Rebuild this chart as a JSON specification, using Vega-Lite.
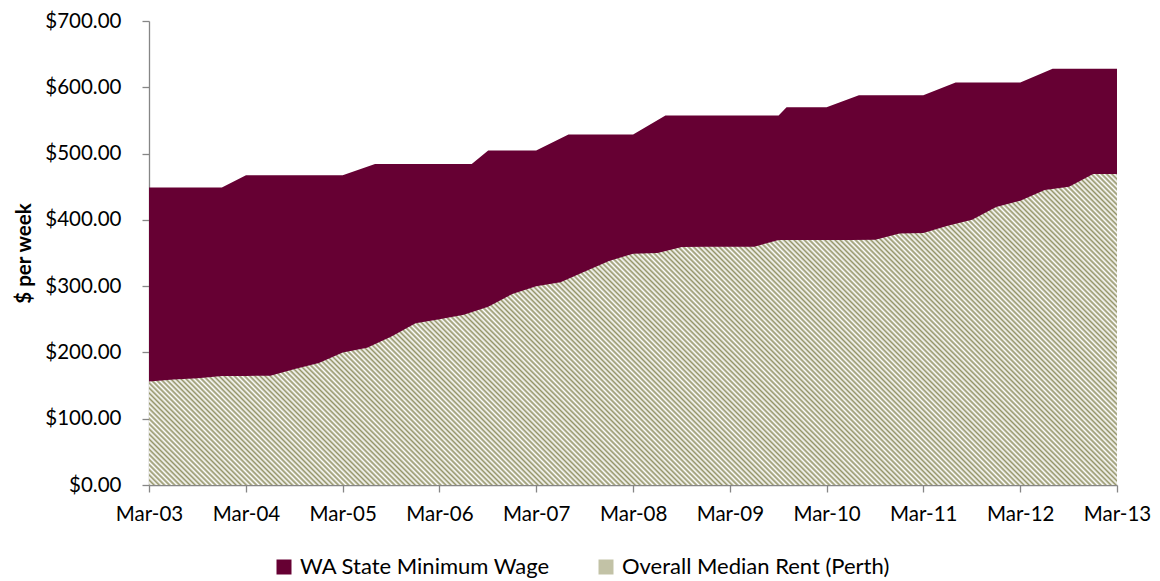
{
  "$schema": "https://vega.github.io/schema/vega-lite/v6.json",
  "width": 968,
  "height": 464,
  "autosize": {"type": "none"},
  "padding": {"left": 149, "top": 21, "right": 43, "bottom": 96},
  "background": "white",
  "config": {"view": {"stroke": null}, "font": "Lato"},
  "data": {"values": [
    {"date": "2003-03-01", "series": "WA State Minimum Wage", "value": 448.7},
    {"date": "2003-12-01", "series": "WA State Minimum Wage", "value": 448.7},
    {"date": "2004-03-01", "series": "WA State Minimum Wage", "value": 467.4},
    {"date": "2005-03-01", "series": "WA State Minimum Wage", "value": 467.4},
    {"date": "2005-07-01", "series": "WA State Minimum Wage", "value": 484.4},
    {"date": "2006-07-01", "series": "WA State Minimum Wage", "value": 484.4},
    {"date": "2006-09-01", "series": "WA State Minimum Wage", "value": 504.6},
    {"date": "2007-03-01", "series": "WA State Minimum Wage", "value": 504.6},
    {"date": "2007-07-01", "series": "WA State Minimum Wage", "value": 528.9},
    {"date": "2008-03-01", "series": "WA State Minimum Wage", "value": 528.9},
    {"date": "2008-07-01", "series": "WA State Minimum Wage", "value": 557.6},
    {"date": "2009-09-01", "series": "WA State Minimum Wage", "value": 557.6},
    {"date": "2009-10-01", "series": "WA State Minimum Wage", "value": 569.7},
    {"date": "2010-03-01", "series": "WA State Minimum Wage", "value": 569.7},
    {"date": "2010-07-01", "series": "WA State Minimum Wage", "value": 587.8},
    {"date": "2011-03-01", "series": "WA State Minimum Wage", "value": 587.8},
    {"date": "2011-07-01", "series": "WA State Minimum Wage", "value": 607.4},
    {"date": "2012-03-01", "series": "WA State Minimum Wage", "value": 607.4},
    {"date": "2012-07-01", "series": "WA State Minimum Wage", "value": 627.9},
    {"date": "2013-03-01", "series": "WA State Minimum Wage", "value": 627.9},
    {"date": "2003-03-01", "series": "Overall Median Rent (Perth)", "value": 156},
    {"date": "2003-06-01", "series": "Overall Median Rent (Perth)", "value": 159},
    {"date": "2003-09-01", "series": "Overall Median Rent (Perth)", "value": 161},
    {"date": "2003-12-01", "series": "Overall Median Rent (Perth)", "value": 164.5},
    {"date": "2004-03-01", "series": "Overall Median Rent (Perth)", "value": 164.5},
    {"date": "2004-06-01", "series": "Overall Median Rent (Perth)", "value": 165},
    {"date": "2004-09-01", "series": "Overall Median Rent (Perth)", "value": 175},
    {"date": "2004-12-01", "series": "Overall Median Rent (Perth)", "value": 184},
    {"date": "2005-03-01", "series": "Overall Median Rent (Perth)", "value": 200},
    {"date": "2005-06-01", "series": "Overall Median Rent (Perth)", "value": 207},
    {"date": "2005-09-01", "series": "Overall Median Rent (Perth)", "value": 224},
    {"date": "2005-12-01", "series": "Overall Median Rent (Perth)", "value": 244},
    {"date": "2006-03-01", "series": "Overall Median Rent (Perth)", "value": 250},
    {"date": "2006-06-01", "series": "Overall Median Rent (Perth)", "value": 257},
    {"date": "2006-09-01", "series": "Overall Median Rent (Perth)", "value": 269},
    {"date": "2006-12-01", "series": "Overall Median Rent (Perth)", "value": 288},
    {"date": "2007-03-01", "series": "Overall Median Rent (Perth)", "value": 300},
    {"date": "2007-06-01", "series": "Overall Median Rent (Perth)", "value": 306},
    {"date": "2007-09-01", "series": "Overall Median Rent (Perth)", "value": 322},
    {"date": "2007-12-01", "series": "Overall Median Rent (Perth)", "value": 338},
    {"date": "2008-03-01", "series": "Overall Median Rent (Perth)", "value": 349},
    {"date": "2008-06-01", "series": "Overall Median Rent (Perth)", "value": 350},
    {"date": "2008-09-01", "series": "Overall Median Rent (Perth)", "value": 359},
    {"date": "2008-12-01", "series": "Overall Median Rent (Perth)", "value": 359.5},
    {"date": "2009-03-01", "series": "Overall Median Rent (Perth)", "value": 359.5},
    {"date": "2009-06-01", "series": "Overall Median Rent (Perth)", "value": 359.5},
    {"date": "2009-09-01", "series": "Overall Median Rent (Perth)", "value": 369.5},
    {"date": "2009-12-01", "series": "Overall Median Rent (Perth)", "value": 369.5},
    {"date": "2010-03-01", "series": "Overall Median Rent (Perth)", "value": 369.5},
    {"date": "2010-06-01", "series": "Overall Median Rent (Perth)", "value": 369.5},
    {"date": "2010-09-01", "series": "Overall Median Rent (Perth)", "value": 370},
    {"date": "2010-12-01", "series": "Overall Median Rent (Perth)", "value": 379.5},
    {"date": "2011-03-01", "series": "Overall Median Rent (Perth)", "value": 380},
    {"date": "2011-06-01", "series": "Overall Median Rent (Perth)", "value": 391},
    {"date": "2011-09-01", "series": "Overall Median Rent (Perth)", "value": 400},
    {"date": "2011-12-01", "series": "Overall Median Rent (Perth)", "value": 419.5},
    {"date": "2012-03-01", "series": "Overall Median Rent (Perth)", "value": 429},
    {"date": "2012-06-01", "series": "Overall Median Rent (Perth)", "value": 445},
    {"date": "2012-09-01", "series": "Overall Median Rent (Perth)", "value": 450},
    {"date": "2012-12-01", "series": "Overall Median Rent (Perth)", "value": 469},
    {"date": "2013-03-01", "series": "Overall Median Rent (Perth)", "value": 469}
  ]},
  "encoding": {
    "x": {
      "field": "date", "type": "temporal",
      "scale": {"type": "utc", "domain": [{"year": 2003, "month": 3, "date": 1, "utc": true}, {"year": 2013, "month": 3, "date": 1, "utc": true}]},
      "axis": {
        "title": null, "grid": false, "format": "%b-%y",
        "values": [
          {"year": 2003, "month": 3, "date": 1, "utc": true},
          {"year": 2004, "month": 3, "date": 1, "utc": true},
          {"year": 2005, "month": 3, "date": 1, "utc": true},
          {"year": 2006, "month": 3, "date": 1, "utc": true},
          {"year": 2007, "month": 3, "date": 1, "utc": true},
          {"year": 2008, "month": 3, "date": 1, "utc": true},
          {"year": 2009, "month": 3, "date": 1, "utc": true},
          {"year": 2010, "month": 3, "date": 1, "utc": true},
          {"year": 2011, "month": 3, "date": 1, "utc": true},
          {"year": 2012, "month": 3, "date": 1, "utc": true},
          {"year": 2013, "month": 3, "date": 1, "utc": true}
        ],
        "labelFont": "Lato", "labelFontSize": 20.5, "labelColor": "#000000",
        "labelPadding": 12, "labelOverlap": false, "labelFlush": false,
        "tickSize": 7, "tickColor": "#868686", "tickWidth": 1.3,
        "domainColor": "#868686", "domainWidth": 1.3
      }
    },
    "y": {
      "field": "value", "type": "quantitative", "stack": null,
      "scale": {"domain": [0, 700], "nice": false},
      "axis": {
        "title": "$ per week", "titleFont": "Lato", "titleFontSize": 20.5, "titleFontWeight": "bold", "titleColor": "#000000", "titlePadding": 10,
        "grid": false, "values": [0, 100, 200, 300, 400, 500, 600, 700], "format": "$.2f",
        "labelFont": "Lato", "labelFontSize": 20.5, "labelColor": "#000000", "labelPadding": 21,
        "tickSize": 7, "tickColor": "#868686", "tickWidth": 1.3,
        "domainColor": "#868686", "domainWidth": 1.3
      }
    }
  },
  "layer": [
    {
      "transform": [{"filter": "datum.series === 'WA State Minimum Wage'"}],
      "mark": {"type": "area", "opacity": 1},
      "encoding": {
        "color": {
          "field": "series", "type": "nominal",
          "scale": {"domain": ["WA State Minimum Wage", "Overall Median Rent (Perth)"], "range": ["#660033", "#c2c2a6"]},
          "legend": {
            "title": null, "orient": "none", "legendX": 124, "legendY": 535, "direction": "horizontal",
            "symbolType": "square", "symbolSize": 225, "symbolStrokeWidth": 0, "symbolOpacity": 1,
            "labelFont": "Lato", "labelFontSize": 22, "labelColor": "#000000", "labelOffset": 5, "columnPadding": 44, "labelLimit": 0
          }
        }
      }
    },
    {
      "transform": [{"filter": "datum.series === 'Overall Median Rent (Perth)'"}],
      "mark": {"type": "area", "opacity": 1, "color": {"gradient": "linear", "x1": 0, "y1": 1, "x2": 1.1977, "y2": 0.6152, "stops": [
        {"offset":0,"color":"#949468"},{"offset":0.002,"color":"#fff"},{"offset":0.004,"color":"#949468"},{"offset":0.006,"color":"#fff"},{"offset":0.008,"color":"#949468"},{"offset":0.01,"color":"#fff"},{"offset":0.012,"color":"#949468"},{"offset":0.014,"color":"#fff"},{"offset":0.016,"color":"#949468"},{"offset":0.018,"color":"#fff"},
        {"offset":0.02,"color":"#949468"},{"offset":0.022,"color":"#fff"},{"offset":0.024,"color":"#949468"},{"offset":0.026,"color":"#fff"},{"offset":0.028,"color":"#949468"},{"offset":0.03,"color":"#fff"},{"offset":0.032,"color":"#949468"},{"offset":0.034,"color":"#fff"},{"offset":0.036,"color":"#949468"},{"offset":0.038,"color":"#fff"},
        {"offset":0.04,"color":"#949468"},{"offset":0.042,"color":"#fff"},{"offset":0.044,"color":"#949468"},{"offset":0.046,"color":"#fff"},{"offset":0.048,"color":"#949468"},{"offset":0.05,"color":"#fff"},{"offset":0.052,"color":"#949468"},{"offset":0.054,"color":"#fff"},{"offset":0.056,"color":"#949468"},{"offset":0.058,"color":"#fff"},
        {"offset":0.06,"color":"#949468"},{"offset":0.062,"color":"#fff"},{"offset":0.064,"color":"#949468"},{"offset":0.066,"color":"#fff"},{"offset":0.068,"color":"#949468"},{"offset":0.07,"color":"#fff"},{"offset":0.072,"color":"#949468"},{"offset":0.074,"color":"#fff"},{"offset":0.076,"color":"#949468"},{"offset":0.078,"color":"#fff"},
        {"offset":0.08,"color":"#949468"},{"offset":0.082,"color":"#fff"},{"offset":0.084,"color":"#949468"},{"offset":0.086,"color":"#fff"},{"offset":0.088,"color":"#949468"},{"offset":0.09,"color":"#fff"},{"offset":0.092,"color":"#949468"},{"offset":0.094,"color":"#fff"},{"offset":0.096,"color":"#949468"},{"offset":0.098,"color":"#fff"},
        {"offset":0.1,"color":"#949468"},{"offset":0.102,"color":"#fff"},{"offset":0.104,"color":"#949468"},{"offset":0.106,"color":"#fff"},{"offset":0.108,"color":"#949468"},{"offset":0.11,"color":"#fff"},{"offset":0.112,"color":"#949468"},{"offset":0.114,"color":"#fff"},{"offset":0.116,"color":"#949468"},{"offset":0.118,"color":"#fff"},
        {"offset":0.12,"color":"#949468"},{"offset":0.122,"color":"#fff"},{"offset":0.124,"color":"#949468"},{"offset":0.126,"color":"#fff"},{"offset":0.128,"color":"#949468"},{"offset":0.13,"color":"#fff"},{"offset":0.132,"color":"#949468"},{"offset":0.134,"color":"#fff"},{"offset":0.136,"color":"#949468"},{"offset":0.138,"color":"#fff"},
        {"offset":0.14,"color":"#949468"},{"offset":0.142,"color":"#fff"},{"offset":0.144,"color":"#949468"},{"offset":0.146,"color":"#fff"},{"offset":0.148,"color":"#949468"},{"offset":0.15,"color":"#fff"},{"offset":0.152,"color":"#949468"},{"offset":0.154,"color":"#fff"},{"offset":0.156,"color":"#949468"},{"offset":0.158,"color":"#fff"},
        {"offset":0.16,"color":"#949468"},{"offset":0.162,"color":"#fff"},{"offset":0.164,"color":"#949468"},{"offset":0.166,"color":"#fff"},{"offset":0.168,"color":"#949468"},{"offset":0.17,"color":"#fff"},{"offset":0.172,"color":"#949468"},{"offset":0.174,"color":"#fff"},{"offset":0.176,"color":"#949468"},{"offset":0.178,"color":"#fff"},
        {"offset":0.18,"color":"#949468"},{"offset":0.182,"color":"#fff"},{"offset":0.184,"color":"#949468"},{"offset":0.186,"color":"#fff"},{"offset":0.188,"color":"#949468"},{"offset":0.19,"color":"#fff"},{"offset":0.192,"color":"#949468"},{"offset":0.194,"color":"#fff"},{"offset":0.196,"color":"#949468"},{"offset":0.198,"color":"#fff"},
        {"offset":0.2,"color":"#949468"},{"offset":0.202,"color":"#fff"},{"offset":0.204,"color":"#949468"},{"offset":0.206,"color":"#fff"},{"offset":0.208,"color":"#949468"},{"offset":0.21,"color":"#fff"},{"offset":0.212,"color":"#949468"},{"offset":0.214,"color":"#fff"},{"offset":0.216,"color":"#949468"},{"offset":0.218,"color":"#fff"},
        {"offset":0.22,"color":"#949468"},{"offset":0.222,"color":"#fff"},{"offset":0.224,"color":"#949468"},{"offset":0.226,"color":"#fff"},{"offset":0.228,"color":"#949468"},{"offset":0.23,"color":"#fff"},{"offset":0.232,"color":"#949468"},{"offset":0.234,"color":"#fff"},{"offset":0.236,"color":"#949468"},{"offset":0.238,"color":"#fff"},
        {"offset":0.24,"color":"#949468"},{"offset":0.242,"color":"#fff"},{"offset":0.244,"color":"#949468"},{"offset":0.246,"color":"#fff"},{"offset":0.248,"color":"#949468"},{"offset":0.25,"color":"#fff"},{"offset":0.252,"color":"#949468"},{"offset":0.254,"color":"#fff"},{"offset":0.256,"color":"#949468"},{"offset":0.258,"color":"#fff"},
        {"offset":0.26,"color":"#949468"},{"offset":0.262,"color":"#fff"},{"offset":0.264,"color":"#949468"},{"offset":0.266,"color":"#fff"},{"offset":0.268,"color":"#949468"},{"offset":0.27,"color":"#fff"},{"offset":0.272,"color":"#949468"},{"offset":0.274,"color":"#fff"},{"offset":0.276,"color":"#949468"},{"offset":0.278,"color":"#fff"},
        {"offset":0.28,"color":"#949468"},{"offset":0.282,"color":"#fff"},{"offset":0.284,"color":"#949468"},{"offset":0.286,"color":"#fff"},{"offset":0.288,"color":"#949468"},{"offset":0.29,"color":"#fff"},{"offset":0.292,"color":"#949468"},{"offset":0.294,"color":"#fff"},{"offset":0.296,"color":"#949468"},{"offset":0.298,"color":"#fff"},
        {"offset":0.3,"color":"#949468"},{"offset":0.302,"color":"#fff"},{"offset":0.304,"color":"#949468"},{"offset":0.306,"color":"#fff"},{"offset":0.308,"color":"#949468"},{"offset":0.31,"color":"#fff"},{"offset":0.312,"color":"#949468"},{"offset":0.314,"color":"#fff"},{"offset":0.316,"color":"#949468"},{"offset":0.318,"color":"#fff"},
        {"offset":0.32,"color":"#949468"},{"offset":0.322,"color":"#fff"},{"offset":0.324,"color":"#949468"},{"offset":0.326,"color":"#fff"},{"offset":0.328,"color":"#949468"},{"offset":0.33,"color":"#fff"},{"offset":0.332,"color":"#949468"},{"offset":0.334,"color":"#fff"},{"offset":0.336,"color":"#949468"},{"offset":0.338,"color":"#fff"},
        {"offset":0.34,"color":"#949468"},{"offset":0.342,"color":"#fff"},{"offset":0.344,"color":"#949468"},{"offset":0.346,"color":"#fff"},{"offset":0.348,"color":"#949468"},{"offset":0.35,"color":"#fff"},{"offset":0.352,"color":"#949468"},{"offset":0.354,"color":"#fff"},{"offset":0.356,"color":"#949468"},{"offset":0.358,"color":"#fff"},
        {"offset":0.36,"color":"#949468"},{"offset":0.362,"color":"#fff"},{"offset":0.364,"color":"#949468"},{"offset":0.366,"color":"#fff"},{"offset":0.368,"color":"#949468"},{"offset":0.37,"color":"#fff"},{"offset":0.372,"color":"#949468"},{"offset":0.374,"color":"#fff"},{"offset":0.376,"color":"#949468"},{"offset":0.378,"color":"#fff"},
        {"offset":0.38,"color":"#949468"},{"offset":0.382,"color":"#fff"},{"offset":0.384,"color":"#949468"},{"offset":0.386,"color":"#fff"},{"offset":0.388,"color":"#949468"},{"offset":0.39,"color":"#fff"},{"offset":0.392,"color":"#949468"},{"offset":0.394,"color":"#fff"},{"offset":0.396,"color":"#949468"},{"offset":0.398,"color":"#fff"},
        {"offset":0.4,"color":"#949468"},{"offset":0.402,"color":"#fff"},{"offset":0.404,"color":"#949468"},{"offset":0.406,"color":"#fff"},{"offset":0.408,"color":"#949468"},{"offset":0.41,"color":"#fff"},{"offset":0.412,"color":"#949468"},{"offset":0.414,"color":"#fff"},{"offset":0.416,"color":"#949468"},{"offset":0.418,"color":"#fff"},
        {"offset":0.42,"color":"#949468"},{"offset":0.422,"color":"#fff"},{"offset":0.424,"color":"#949468"},{"offset":0.426,"color":"#fff"},{"offset":0.428,"color":"#949468"},{"offset":0.43,"color":"#fff"},{"offset":0.432,"color":"#949468"},{"offset":0.434,"color":"#fff"},{"offset":0.436,"color":"#949468"},{"offset":0.438,"color":"#fff"},
        {"offset":0.44,"color":"#949468"},{"offset":0.442,"color":"#fff"},{"offset":0.444,"color":"#949468"},{"offset":0.446,"color":"#fff"},{"offset":0.448,"color":"#949468"},{"offset":0.45,"color":"#fff"},{"offset":0.452,"color":"#949468"},{"offset":0.454,"color":"#fff"},{"offset":0.456,"color":"#949468"},{"offset":0.458,"color":"#fff"},
        {"offset":0.46,"color":"#949468"},{"offset":0.462,"color":"#fff"},{"offset":0.464,"color":"#949468"},{"offset":0.466,"color":"#fff"},{"offset":0.468,"color":"#949468"},{"offset":0.47,"color":"#fff"},{"offset":0.472,"color":"#949468"},{"offset":0.474,"color":"#fff"},{"offset":0.476,"color":"#949468"},{"offset":0.478,"color":"#fff"},
        {"offset":0.48,"color":"#949468"},{"offset":0.482,"color":"#fff"},{"offset":0.484,"color":"#949468"},{"offset":0.486,"color":"#fff"},{"offset":0.488,"color":"#949468"},{"offset":0.49,"color":"#fff"},{"offset":0.492,"color":"#949468"},{"offset":0.494,"color":"#fff"},{"offset":0.496,"color":"#949468"},{"offset":0.498,"color":"#fff"},
        {"offset":0.5,"color":"#949468"},{"offset":0.502,"color":"#fff"},{"offset":0.504,"color":"#949468"},{"offset":0.506,"color":"#fff"},{"offset":0.508,"color":"#949468"},{"offset":0.51,"color":"#fff"},{"offset":0.512,"color":"#949468"},{"offset":0.514,"color":"#fff"},{"offset":0.516,"color":"#949468"},{"offset":0.518,"color":"#fff"},
        {"offset":0.52,"color":"#949468"},{"offset":0.522,"color":"#fff"},{"offset":0.524,"color":"#949468"},{"offset":0.526,"color":"#fff"},{"offset":0.528,"color":"#949468"},{"offset":0.53,"color":"#fff"},{"offset":0.532,"color":"#949468"},{"offset":0.534,"color":"#fff"},{"offset":0.536,"color":"#949468"},{"offset":0.538,"color":"#fff"},
        {"offset":0.54,"color":"#949468"},{"offset":0.542,"color":"#fff"},{"offset":0.544,"color":"#949468"},{"offset":0.546,"color":"#fff"},{"offset":0.548,"color":"#949468"},{"offset":0.55,"color":"#fff"},{"offset":0.552,"color":"#949468"},{"offset":0.554,"color":"#fff"},{"offset":0.556,"color":"#949468"},{"offset":0.558,"color":"#fff"},
        {"offset":0.56,"color":"#949468"},{"offset":0.562,"color":"#fff"},{"offset":0.564,"color":"#949468"},{"offset":0.566,"color":"#fff"},{"offset":0.568,"color":"#949468"},{"offset":0.57,"color":"#fff"},{"offset":0.572,"color":"#949468"},{"offset":0.574,"color":"#fff"},{"offset":0.576,"color":"#949468"},{"offset":0.578,"color":"#fff"},
        {"offset":0.58,"color":"#949468"},{"offset":0.582,"color":"#fff"},{"offset":0.584,"color":"#949468"},{"offset":0.586,"color":"#fff"},{"offset":0.588,"color":"#949468"},{"offset":0.59,"color":"#fff"},{"offset":0.592,"color":"#949468"},{"offset":0.594,"color":"#fff"},{"offset":0.596,"color":"#949468"},{"offset":0.598,"color":"#fff"},
        {"offset":0.6,"color":"#949468"},{"offset":0.602,"color":"#fff"},{"offset":0.604,"color":"#949468"},{"offset":0.606,"color":"#fff"},{"offset":0.608,"color":"#949468"},{"offset":0.61,"color":"#fff"},{"offset":0.612,"color":"#949468"},{"offset":0.614,"color":"#fff"},{"offset":0.616,"color":"#949468"},{"offset":0.618,"color":"#fff"},
        {"offset":0.62,"color":"#949468"},{"offset":0.622,"color":"#fff"},{"offset":0.624,"color":"#949468"},{"offset":0.626,"color":"#fff"},{"offset":0.628,"color":"#949468"},{"offset":0.63,"color":"#fff"},{"offset":0.632,"color":"#949468"},{"offset":0.634,"color":"#fff"},{"offset":0.636,"color":"#949468"},{"offset":0.638,"color":"#fff"},
        {"offset":0.64,"color":"#949468"},{"offset":0.642,"color":"#fff"},{"offset":0.644,"color":"#949468"},{"offset":0.646,"color":"#fff"},{"offset":0.648,"color":"#949468"},{"offset":0.65,"color":"#fff"},{"offset":0.652,"color":"#949468"},{"offset":0.654,"color":"#fff"},{"offset":0.656,"color":"#949468"},{"offset":0.658,"color":"#fff"},
        {"offset":0.66,"color":"#949468"},{"offset":0.662,"color":"#fff"},{"offset":0.664,"color":"#949468"},{"offset":0.666,"color":"#fff"},{"offset":0.668,"color":"#949468"},{"offset":0.67,"color":"#fff"},{"offset":0.672,"color":"#949468"},{"offset":0.674,"color":"#fff"},{"offset":0.676,"color":"#949468"},{"offset":0.678,"color":"#fff"},
        {"offset":0.68,"color":"#949468"},{"offset":0.682,"color":"#fff"},{"offset":0.684,"color":"#949468"},{"offset":0.686,"color":"#fff"},{"offset":0.688,"color":"#949468"},{"offset":0.69,"color":"#fff"},{"offset":0.692,"color":"#949468"},{"offset":0.694,"color":"#fff"},{"offset":0.696,"color":"#949468"},{"offset":0.698,"color":"#fff"},
        {"offset":0.7,"color":"#949468"},{"offset":0.702,"color":"#fff"},{"offset":0.704,"color":"#949468"},{"offset":0.706,"color":"#fff"},{"offset":0.708,"color":"#949468"},{"offset":0.71,"color":"#fff"},{"offset":0.712,"color":"#949468"},{"offset":0.714,"color":"#fff"},{"offset":0.716,"color":"#949468"},{"offset":0.718,"color":"#fff"},
        {"offset":0.72,"color":"#949468"},{"offset":0.722,"color":"#fff"},{"offset":0.724,"color":"#949468"},{"offset":0.726,"color":"#fff"},{"offset":0.728,"color":"#949468"},{"offset":0.73,"color":"#fff"},{"offset":0.732,"color":"#949468"},{"offset":0.734,"color":"#fff"},{"offset":0.736,"color":"#949468"},{"offset":0.738,"color":"#fff"},
        {"offset":0.74,"color":"#949468"},{"offset":0.742,"color":"#fff"},{"offset":0.744,"color":"#949468"},{"offset":0.746,"color":"#fff"},{"offset":0.748,"color":"#949468"},{"offset":0.75,"color":"#fff"},{"offset":0.752,"color":"#949468"},{"offset":0.754,"color":"#fff"},{"offset":0.756,"color":"#949468"},{"offset":0.758,"color":"#fff"},
        {"offset":0.76,"color":"#949468"},{"offset":0.762,"color":"#fff"},{"offset":0.764,"color":"#949468"},{"offset":0.766,"color":"#fff"},{"offset":0.768,"color":"#949468"},{"offset":0.77,"color":"#fff"},{"offset":0.772,"color":"#949468"},{"offset":0.774,"color":"#fff"},{"offset":0.776,"color":"#949468"},{"offset":0.778,"color":"#fff"},
        {"offset":0.78,"color":"#949468"},{"offset":0.782,"color":"#fff"},{"offset":0.784,"color":"#949468"},{"offset":0.786,"color":"#fff"},{"offset":0.788,"color":"#949468"},{"offset":0.79,"color":"#fff"},{"offset":0.792,"color":"#949468"},{"offset":0.794,"color":"#fff"},{"offset":0.796,"color":"#949468"},{"offset":0.798,"color":"#fff"},
        {"offset":0.8,"color":"#949468"},{"offset":0.802,"color":"#fff"},{"offset":0.804,"color":"#949468"},{"offset":0.806,"color":"#fff"},{"offset":0.808,"color":"#949468"},{"offset":0.81,"color":"#fff"},{"offset":0.812,"color":"#949468"},{"offset":0.814,"color":"#fff"},{"offset":0.816,"color":"#949468"},{"offset":0.818,"color":"#fff"},
        {"offset":0.82,"color":"#949468"},{"offset":0.822,"color":"#fff"},{"offset":0.824,"color":"#949468"},{"offset":0.826,"color":"#fff"},{"offset":0.828,"color":"#949468"},{"offset":0.83,"color":"#fff"},{"offset":0.832,"color":"#949468"},{"offset":0.834,"color":"#fff"},{"offset":0.836,"color":"#949468"},{"offset":0.838,"color":"#fff"},
        {"offset":0.84,"color":"#949468"},{"offset":0.842,"color":"#fff"},{"offset":0.844,"color":"#949468"},{"offset":0.846,"color":"#fff"},{"offset":0.848,"color":"#949468"},{"offset":0.85,"color":"#fff"},{"offset":0.852,"color":"#949468"},{"offset":0.854,"color":"#fff"},{"offset":0.856,"color":"#949468"},{"offset":0.858,"color":"#fff"},
        {"offset":0.86,"color":"#949468"},{"offset":0.862,"color":"#fff"},{"offset":0.864,"color":"#949468"},{"offset":0.866,"color":"#fff"},{"offset":0.868,"color":"#949468"},{"offset":0.87,"color":"#fff"},{"offset":0.872,"color":"#949468"},{"offset":0.874,"color":"#fff"},{"offset":0.876,"color":"#949468"},{"offset":0.878,"color":"#fff"},
        {"offset":0.88,"color":"#949468"},{"offset":0.882,"color":"#fff"},{"offset":0.884,"color":"#949468"},{"offset":0.886,"color":"#fff"},{"offset":0.888,"color":"#949468"},{"offset":0.89,"color":"#fff"},{"offset":0.892,"color":"#949468"},{"offset":0.894,"color":"#fff"},{"offset":0.896,"color":"#949468"},{"offset":0.898,"color":"#fff"},
        {"offset":0.9,"color":"#949468"},{"offset":0.902,"color":"#fff"},{"offset":0.904,"color":"#949468"},{"offset":0.906,"color":"#fff"},{"offset":0.908,"color":"#949468"},{"offset":0.91,"color":"#fff"},{"offset":0.912,"color":"#949468"},{"offset":0.914,"color":"#fff"},{"offset":0.916,"color":"#949468"},{"offset":0.918,"color":"#fff"},
        {"offset":0.92,"color":"#949468"},{"offset":0.922,"color":"#fff"},{"offset":0.924,"color":"#949468"},{"offset":0.926,"color":"#fff"},{"offset":0.928,"color":"#949468"},{"offset":0.93,"color":"#fff"},{"offset":0.932,"color":"#949468"},{"offset":0.934,"color":"#fff"},{"offset":0.936,"color":"#949468"},{"offset":0.938,"color":"#fff"},
        {"offset":0.94,"color":"#949468"},{"offset":0.942,"color":"#fff"},{"offset":0.944,"color":"#949468"},{"offset":0.946,"color":"#fff"},{"offset":0.948,"color":"#949468"},{"offset":0.95,"color":"#fff"},{"offset":0.952,"color":"#949468"},{"offset":0.954,"color":"#fff"},{"offset":0.956,"color":"#949468"},{"offset":0.958,"color":"#fff"},
        {"offset":0.96,"color":"#949468"},{"offset":0.962,"color":"#fff"},{"offset":0.964,"color":"#949468"},{"offset":0.966,"color":"#fff"},{"offset":0.968,"color":"#949468"},{"offset":0.97,"color":"#fff"},{"offset":0.972,"color":"#949468"},{"offset":0.974,"color":"#fff"},{"offset":0.976,"color":"#949468"},{"offset":0.978,"color":"#fff"},
        {"offset":0.98,"color":"#949468"},{"offset":0.982,"color":"#fff"},{"offset":0.984,"color":"#949468"},{"offset":0.986,"color":"#fff"},{"offset":0.988,"color":"#949468"},{"offset":0.99,"color":"#fff"},{"offset":0.992,"color":"#949468"},{"offset":0.994,"color":"#fff"},{"offset":0.996,"color":"#949468"},{"offset":0.998,"color":"#fff"},
        {"offset":1,"color":"#949468"}
      ]}}
    }
  ]
}
